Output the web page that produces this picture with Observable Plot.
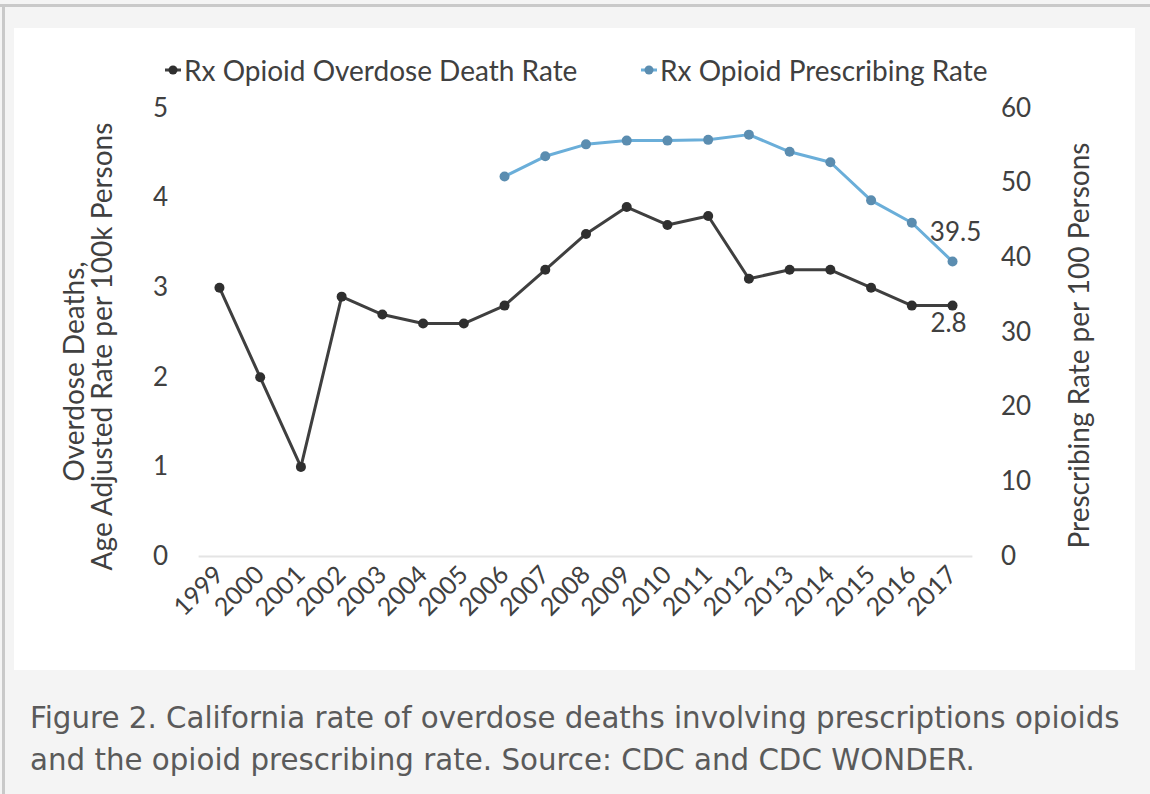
<!DOCTYPE html>
<html>
<head>
<meta charset="utf-8">
<script src="https://cdn.jsdelivr.net/npm/d3@7"></script>
<script src="https://cdn.jsdelivr.net/npm/@observablehq/plot@0.6"></script>
<style>
  body { margin:0; background:#f4f4f4; width:1150px; height:794px; overflow:hidden; position:relative; }
  #topborder { position:absolute; left:0; top:4px; width:1150px; height:3px; background:#c9c9c9; }
  #leftborder { position:absolute; left:2px; top:4px; width:3px; height:790px; background:#c9c9c9; }
  #panel { position:absolute; left:14px; top:28px; width:1121px; height:642px; background:#fff; }
  #legend { position:absolute; left:0; top:24px; height:36px; width:1121px; font-family:Lato,sans-serif; font-size:28px; color:#404040; }
  .item { position:absolute; top:0; display:flex; align-items:center; height:36px; white-space:nowrap; }
  .item svg { margin-right:3px; }
  #chart { position:absolute; left:0; top:60px; }
  #caption { position:absolute; left:30px; top:697px; width:1115px; font-family:"DejaVu Sans",sans-serif; font-size:29.3px; line-height:42px; color:#5a5a5a; white-space:nowrap; }
</style>
</head>
<body>
<div id="topborder"></div>
<div id="leftborder"></div>
<div id="panel">
  <div id="legend"></div>
  <div id="chart"></div>
</div>
<div id="caption">Figure 2. California rate of overdose deaths involving prescriptions opioids<br>and the opioid prescribing rate. Source: CDC and CDC WONDER.</div>
<script>
const years = [1999,2000,2001,2002,2003,2004,2005,2006,2007,2008,2009,2010,2011,2012,2013,2014,2015,2016,2017];
const deathRate = [3.0,2.0,1.0,2.9,2.7,2.6,2.6,2.8,3.2,3.6,3.9,3.7,3.8,3.1,3.2,3.2,3.0,2.8,2.8];
const rxYears = [2006,2007,2008,2009,2010,2011,2012,2013,2014,2015,2016,2017];
const prescribingRate = [50.9,53.6,55.2,55.7,55.7,55.8,56.5,54.2,52.8,47.7,44.7,39.5];
const leftTicks = [0,1,2,3,4,5];
const rightTicks = [0,10,20,30,40,50,60];
const seriesNames = ["Rx Opioid Overdose Death Rate","Rx Opioid Prescribing Rate"];
const leftTitle = ["Overdose Deaths,","Age Adjusted Rate per 100k Persons"];
const rightTitle = "Prescribing Rate per 100 Persons";

const ratio = rightTicks[rightTicks.length-1] / leftTicks[leftTicks.length-1];
const death = years.map((year,i)=>({year, value:deathRate[i]}));
const rx = rxYears.map((year,i)=>({year, value:prescribingRate[i]}));

const deathColor = "#3f3f3f", deathDot = "#2f2f2f";
const rxColor = "#6aaed9", rxDot = "#5b8db0";
const font = "Lato,sans-serif";
const textColor = "#404040";

// legend
const legend = document.getElementById("legend");
[[seriesNames[0], deathColor, deathDot, 151],[seriesNames[1], rxColor, rxDot, 627]].forEach(([name,c,d,x])=>{
  const el = document.createElement("div");
  el.className = "item";
  el.style.left = x + "px";
  el.innerHTML = `<svg width="16" height="12"><line x1="0" y1="6" x2="16" y2="6" stroke="${c}" stroke-width="3"/><circle cx="8" cy="6" r="4.5" fill="${d}"/></svg><span>${name}</span>`;
  legend.appendChild(el);
});

const chart = Plot.plot({
  width: 1121,
  height: 582,
  marginLeft: 184.6,
  marginRight: 162.6,
  marginTop: 20,
  marginBottom: 114,
  x: {domain: [1998.5, 2017.5]},
  y: {domain: [0, 5]},
  style: {fontFamily: font, fontSize: "26px", color: textColor, background: "transparent", overflow: "visible"},
  marks: [
    Plot.ruleY([0], {stroke: "#e4e4e4", strokeWidth: 2}),
    Plot.axisY(leftTicks, {anchor: "left", tickSize: 0, tickPadding: 31, label: null, fontSize: 26, tickFormat: d => String(d)}),
    Plot.axisY(rightTicks.map(t => t / ratio), {anchor: "right", tickSize: 0, tickPadding: 28, label: null, fontSize: 26, tickFormat: d => String(Math.round(d * ratio))}),
    Plot.axisX(years, {anchor: "bottom", tickSize: 0, tickPadding: 14, tickRotate: -45, label: null, fontSize: 25, tickFormat: d => String(d)}),
    Plot.line(death, {x: "year", y: "value", stroke: deathColor, strokeWidth: 3}),
    Plot.dot(death, {x: "year", y: "value", r: 5, fill: deathDot}),
    Plot.line(rx, {x: "year", y: d => d.value / ratio, stroke: rxColor, strokeWidth: 3}),
    Plot.dot(rx, {x: "year", y: d => d.value / ratio, r: 5, fill: rxDot}),
    Plot.text([death[death.length-1]], {x: "year", y: "value", text: d => d.value.toFixed(1), dx: -4, dy: 18, fontSize: 26, fill: textColor}),
    Plot.text([rx[rx.length-1]], {x: "year", y: d => d.value / ratio, text: d => d.value.toFixed(1), dx: 3, dy: -29, fontSize: 26, fill: textColor}),
    Plot.text([leftTitle[0]], {frameAnchor: "left", textAnchor: "middle", text: d => d, rotate: -90, dx: -123.6, dy: 39, fontSize: 28, fill: textColor}),
    Plot.text([leftTitle[1]], {frameAnchor: "left", textAnchor: "middle", text: d => d, rotate: -90, dx: -95.6, dy: 14, fontSize: 28, fill: textColor}),
    Plot.text([rightTitle], {frameAnchor: "right", textAnchor: "middle", text: d => d, rotate: -90, dx: 107.6, dy: 13, fontSize: 28, fill: textColor})
  ]
});
document.getElementById("chart").appendChild(chart);
</script>
</body>
</html>
